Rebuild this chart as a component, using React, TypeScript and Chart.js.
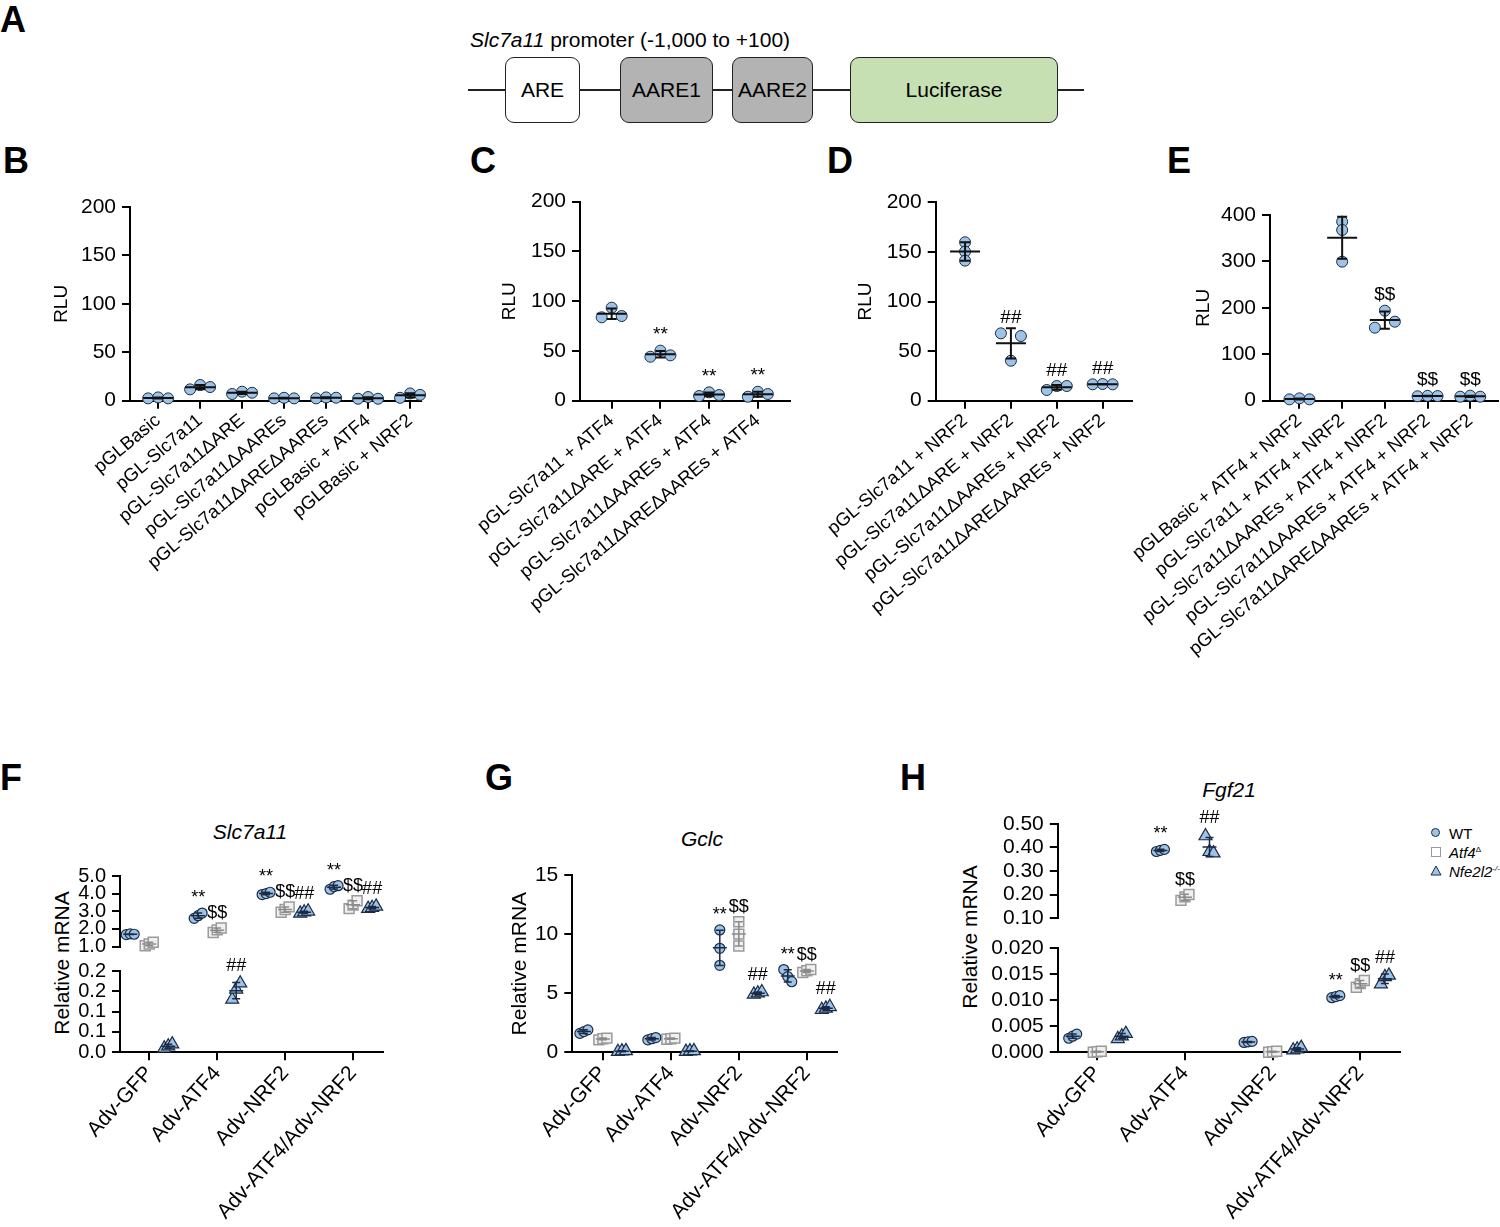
import React, { useEffect, useRef } from "react";
import { Chart, registerables } from "chart.js";

Chart.register(...registerables);

const FONT = "'Liberation Sans', Arial, Helvetica, sans-serif";
Chart.defaults.font.family = FONT;
Chart.defaults.color = "#000";

// ---------------- data ----------------
const B_CATEGORIES = ["pGLBasic", "pGL-Slc7a11", "pGL-Slc7a11ΔARE", "pGL-Slc7a11ΔAAREs", "pGL-Slc7a11ΔAREΔAAREs", "pGLBasic + ATF4", "pGLBasic + NRF2"];
const B_RLU = [[2.4, 3.4, 2.4], [11.7, 16.2, 14.1], [6.9, 9.3, 8.2], [2.4, 3.0, 2.4], [2.4, 3.4, 3.1], [2.0, 3.8, 2.0], [3.0, 7.5, 6.0]];
const B_SIG = ["", "", "", "", "", "", ""];

const C_CATEGORIES = ["pGL-Slc7a11 + ATF4", "pGL-Slc7a11ΔARE + ATF4", "pGL-Slc7a11ΔAAREs + ATF4", "pGL-Slc7a11ΔAREΔAAREs + ATF4"];
const C_RLU = [[83.8, 93.5, 85.1], [44.2, 50.3, 45.6], [4.7, 8.4, 5.7], [4.0, 9.0, 6.7]];
const C_SIG = ["", "**", "**", "**"];

const D_CATEGORIES = ["pGL-Slc7a11 + NRF2", "pGL-Slc7a11ΔARE + NRF2", "pGL-Slc7a11ΔAAREs + NRF2", "pGL-Slc7a11ΔAREΔAAREs + NRF2"];
const D_RLU = [[159.7, 150.3, 141.2], [67.9, 40.3, 65.2], [10.8, 14.8, 14.8], [16.5, 16.8, 16.5]];
const D_SIG = ["", "##", "##", "##"];

const E_CATEGORIES = ["pGLBasic + ATF4 + NRF2", "pGL-Slc7a11 + ATF4 + NRF2", "pGL-Slc7a11ΔAAREs + ATF4 + NRF2", "pGL-Slc7a11ΔAAREs + ATF4 + NRF2", "pGL-Slc7a11ΔAREΔAAREs + ATF4 + NRF2"];
const E_RLU = [[2.9, 5.0, 2.9], [385.6, 367.7, 299.5], [157.3, 193.9, 170.2], [9.5, 10.5, 10.0], [8.6, 10.8, 8.6]];
const E_SIG = ["", "", "$$", "$$", "$$"];

const RLU_TICKS = [0, 50, 100, 150, 200];
const RLU_TICK_LABELS = ["0", "50", "100", "150", "200"];
const E_TICKS = [0, 100, 200, 300, 400];
const E_TICK_LABELS = ["0", "100", "200", "300", "400"];

const MRNA_CATEGORIES = ["Adv-GFP", "Adv-ATF4", "Adv-NRF2", "Adv-ATF4/Adv-NRF2"];
const SERIES_NAMES = ["WT", "Atf4Δ", "Nfe2l2-/-"];

// F: Slc7a11
const F_WT = [[1.68, 1.72, 1.7], [2.6, 2.75, 2.9], [3.95, 4.0, 4.08], [4.25, 4.4, 4.45]];
const F_ATF4KO = [[1.05, 1.15, 1.25], [1.8, 1.95, 2.05], [2.95, 3.1, 3.25], [3.15, 3.35, 3.6]];
const F_NFE2L2KO = [[0.01, 0.015, 0.02], [0.13, 0.155, 0.17], [2.88, 2.95, 3.0], [3.15, 3.2, 3.28]];
const F_SIG_WT = ["", "**", "**", "**"];
const F_SIG_ATF4KO = ["", "$$", "$$", "$$"];
const F_SIG_NFE2L2KO = ["", "##", "##", "##"];
const F_UPPER_TICKS = [1, 2, 3, 4, 5];
const F_UPPER_LABELS = ["1.0", "2.0", "3.0", "4.0", "5.0"];
const F_LOWER_TICKS = [0, 0.05, 0.1, 0.15, 0.2];
const F_LOWER_LABELS = ["0.0", "0.1", "0.1", "0.2", "0.2"];

// G: Gclc
const G_WT = [[1.6, 1.75, 1.9], [1.05, 1.15, 1.25], [10.35, 8.8, 7.36], [7.0, 6.4, 5.97]];
const G_ATF4KO = [[1.05, 1.15, 1.2], [1.1, 1.15, 1.2], [11.05, 10.0, 8.99], [6.75, 6.9, 7.0]];
const G_NFE2L2KO = [[0.05, 0.1, 0.12], [0.06, 0.1, 0.12], [4.9, 5.0, 5.1], [3.6, 3.72, 3.85]];
const G_SIG_WT = ["", "", "**", "**"];
const G_SIG_ATF4KO = ["", "", "$$", "$$"];
const G_SIG_NFE2L2KO = ["", "", "##", "##"];
const G_TICKS = [0, 5, 10, 15];
const G_TICK_LABELS = ["0", "5", "10", "15"];

// H: Fgf21
const H_WT = [[0.0027, 0.0031, 0.0035], [0.383, 0.388, 0.392], [0.0019, 0.002, 0.0021], [0.0105, 0.0107, 0.0109]];
const H_ATF4KO = [[0.0, 0.0001, 0.0002], [0.175, 0.19, 0.2], [0.0, 0.0001, 0.0002], [0.0125, 0.0132, 0.0138]];
const H_NFE2L2KO = [[0.0026, 0.0031, 0.0036], [0.449, 0.382, 0.376], [0.0004, 0.0006, 0.0009], [0.0131, 0.0145, 0.0148]];
const H_SIG_WT = ["", "**", "", "**"];
const H_SIG_ATF4KO = ["", "$$", "", "$$"];
const H_SIG_NFE2L2KO = ["", "##", "", "##"];
const H_UPPER_TICKS = [0.1, 0.2, 0.3, 0.4, 0.5];
const H_UPPER_LABELS = ["0.10", "0.20", "0.30", "0.40", "0.50"];
const H_LOWER_TICKS = [0, 0.005, 0.01, 0.015, 0.02];
const H_LOWER_LABELS = ["0.000", "0.005", "0.010", "0.015", "0.020"];

// ---------------- styles ----------------
const BLUE = "#9dc3e6";
const NAVY = "#1c2b45";

interface MarkStyle { shape: "circle" | "rect" | "triangle"; radius: number; fill: string; stroke: string; strokeW: number; bar: string; }
const RLU_MARK: MarkStyle = { shape: "circle", radius: 5.5, fill: BLUE, stroke: NAVY, strokeW: 1, bar: "#111" };
const WT_MARK: MarkStyle = { shape: "circle", radius: 5, fill: BLUE, stroke: NAVY, strokeW: 1.2, bar: NAVY };
const ATF4KO_MARK: MarkStyle = { shape: "rect", radius: 7, fill: "#f0f0f0", stroke: "#9a9a9a", strokeW: 1.5, bar: "#8a8a8a" };
const NFE2L2KO_MARK: MarkStyle = { shape: "triangle", radius: 7.5, fill: BLUE, stroke: NAVY, strokeW: 1.2, bar: NAVY };

interface SeriesCfg { values: number[][]; sig: string[]; mark: MarkStyle; offset: number; name: string; }
interface PanelCfg {
  key: string;
  rect: number[];
  area: number[];
  xRange: number[];
  yTicks: number[];
  yLabels: string[];
  categories: string[] | null;
  series: SeriesCfg[];
  keep?: (mean: number) => boolean;
  yTitle?: { text: string; centerX: number; size: number };
  yFont: number;
  meanHalf: number; capHalf: number; barW: number; jitterPx: number; sigSize: number; xFont: number; xRot: number;
}

const RLU_STYLE = { meanHalf: 15, capHalf: 5, barW: 2, jitterPx: 10, sigSize: 19, xFont: 18.5, xRot: 40 };
const MRNA_STYLE = { meanHalf: 7, capHalf: 4, barW: 1.5, jitterPx: 4, sigSize: 18, xFont: 21, xRot: 48 };
const OFF = 0.28;

const rluSeries = (values: number[][], sig: string[]): SeriesCfg[] => [{ values, sig, mark: RLU_MARK, offset: 0, name: "RLU" }];
const mrnaSeries = (wt: number[][], a: number[][], n: number[][], sw: string[], sa: string[], sn: string[]): SeriesCfg[] => [
  { values: wt, sig: sw, mark: WT_MARK, offset: -OFF, name: SERIES_NAMES[0] },
  { values: a, sig: sa, mark: ATF4KO_MARK, offset: 0, name: SERIES_NAMES[1] },
  { values: n, sig: sn, mark: NFE2L2KO_MARK, offset: OFF, name: SERIES_NAMES[2] },
];

const PANELS: PanelCfg[] = [
  { key: "B", rect: [0, 180, 432, 660], area: [130, 421, 207, 400.7], xRange: [-0.67, 6.26], yTicks: RLU_TICKS, yLabels: RLU_TICK_LABELS, yFont: 21, categories: B_CATEGORIES, series: rluSeries(B_RLU, B_SIG), yTitle: { text: "RLU", centerX: 62, size: 19 }, ...RLU_STYLE },
  { key: "C", rect: [430, 175, 800, 660], area: [580, 790, 201.7, 400.7], xRange: [-0.65, 3.66], yTicks: RLU_TICKS, yLabels: RLU_TICK_LABELS, yFont: 21, categories: C_CATEGORIES, series: rluSeries(C_RLU, C_SIG), yTitle: { text: "RLU", centerX: 510, size: 19 }, ...RLU_STYLE },
  { key: "D", rect: [790, 175, 1140, 660], area: [935.7, 1132, 202.3, 400.7], xRange: [-0.64, 3.64], yTicks: RLU_TICKS, yLabels: RLU_TICK_LABELS, yFont: 21, categories: D_CATEGORIES, series: rluSeries(D_RLU, D_SIG), yTitle: { text: "RLU", centerX: 866, size: 19 }, ...RLU_STYLE },
  { key: "E", rect: [1130, 190, 1512, 700], area: [1270, 1498, 215, 400.7], xRange: [-0.69, 4.65], yTicks: E_TICKS, yLabels: E_TICK_LABELS, yFont: 21, categories: E_CATEGORIES, series: rluSeries(E_RLU, E_SIG), yTitle: { text: "RLU", centerX: 1204, size: 19 }, ...RLU_STYLE },
  { key: "Fu", rect: [0, 856, 395, 968], area: [120, 383, 876, 957.3], xRange: [-0.43, 3.44], yTicks: F_UPPER_TICKS, yLabels: F_UPPER_LABELS, yFont: 20, categories: null, series: mrnaSeries(F_WT, F_ATF4KO, F_NFE2L2KO, F_SIG_WT, F_SIG_ATF4KO, F_SIG_NFE2L2KO), keep: (m) => m >= 1, ...MRNA_STYLE },
  { key: "Fl", rect: [0, 955, 395, 1227], area: [120, 383, 971, 1052.3], xRange: [-0.43, 3.44], yTicks: F_LOWER_TICKS, yLabels: F_LOWER_LABELS, yFont: 20, categories: MRNA_CATEGORIES, series: mrnaSeries(F_WT, F_ATF4KO, F_NFE2L2KO, F_SIG_WT, F_SIG_ATF4KO, F_SIG_NFE2L2KO), keep: (m) => m < 1, ...MRNA_STYLE },
  { key: "G", rect: [450, 860, 850, 1227], area: [572.3, 836.7, 875, 1052.3], xRange: [-0.45, 3.44], yTicks: G_TICKS, yLabels: G_TICK_LABELS, yFont: 21, categories: MRNA_CATEGORIES, series: mrnaSeries(G_WT, G_ATF4KO, G_NFE2L2KO, G_SIG_WT, G_SIG_ATF4KO, G_SIG_NFE2L2KO), yTitle: { text: "Relative mRNA", centerX: 520, size: 21 }, ...MRNA_STYLE },
  { key: "Hu", rect: [940, 800, 1410, 940], area: [1057.8, 1399.8, 824, 929], xRange: [-0.45, 3.45], yTicks: H_UPPER_TICKS, yLabels: H_UPPER_LABELS, yFont: 21, categories: null, series: mrnaSeries(H_WT, H_ATF4KO, H_NFE2L2KO, H_SIG_WT, H_SIG_ATF4KO, H_SIG_NFE2L2KO), keep: (m) => m >= 0.1, ...MRNA_STYLE },
  { key: "Hl", rect: [940, 935, 1410, 1227], area: [1057.8, 1399.8, 948.3, 1052.3], xRange: [-0.45, 3.45], yTicks: H_LOWER_TICKS, yLabels: H_LOWER_LABELS, yFont: 21, categories: MRNA_CATEGORIES, series: mrnaSeries(H_WT, H_ATF4KO, H_NFE2L2KO, H_SIG_WT, H_SIG_ATF4KO, H_SIG_NFE2L2KO), keep: (m) => m < 0.1, ...MRNA_STYLE },
];

function buildChart(canvas: HTMLCanvasElement, p: PanelCfg): Chart {
  const [L, T, R, B] = p.rect;
  const [x0, x1, yTop, yBot] = p.area;
  const yMin = p.yTicks[0];
  const yMax = p.yTicks[p.yTicks.length - 1];
  const pxPerX = (x1 - x0) / (p.xRange[1] - p.xRange[0]);
  const pxPerY = (yBot - yTop) / (yMax - yMin);
  const cats = p.categories;
  const showX = !!cats;
  const datasets: any[] = [];

  p.series.forEach((s) => {
    s.values.forEach((vals, ci) => {
      const n = vals.length;
      const mean = vals.reduce((a, b) => a + b, 0) / n;
      if (p.keep && !p.keep(mean)) return;
      const sd = Math.sqrt(vals.reduce((a, b) => a + (b - mean) * (b - mean), 0) / (n - 1));
      let crowded = false;
      for (let i = 0; i < n; i++) for (let j = i + 1; j < n; j++) if (Math.abs(vals[i] - vals[j]) * pxPerY < 8) crowded = true;
      const cx = ci + s.offset;
      const step = p.jitterPx / pxPerX;
      const data = vals.map((v, i) => ({ x: cx + (crowded ? (i - (n - 1) / 2) * step : 0), y: v }));
      const visR = s.mark.shape === "rect" ? s.mark.radius * 0.71 : s.mark.radius;
      datasets.push({
        label: s.name,
        data,
        pointStyle: s.mark.shape,
        pointRadius: s.mark.radius,
        backgroundColor: s.mark.fill,
        borderColor: s.mark.stroke,
        borderWidth: s.mark.strokeW,
        clip: false,
        summary: { x: cx, mean, sd, color: s.mark.bar, sig: s.sig[ci], top: Math.max(...vals), r: visR },
      });
    });
  });

  const summaryPlugin = {
    id: "summary" + p.key,
    afterDatasetsDraw(chart: any) {
      const ctx = chart.ctx as CanvasRenderingContext2D;
      const xs = chart.scales.x;
      const ys = chart.scales.y;
      chart.data.datasets.forEach((ds: any) => {
        const s = ds.summary;
        if (!s) return;
        const px = xs.getPixelForValue(s.x);
        const pm = ys.getPixelForValue(s.mean);
        const pHi = ys.getPixelForValue(s.mean + s.sd);
        const pLo = ys.getPixelForValue(s.mean - s.sd);
        ctx.save();
        ctx.strokeStyle = s.color;
        ctx.lineWidth = p.barW;
        ctx.beginPath();
        ctx.moveTo(px, pHi); ctx.lineTo(px, pLo);
        ctx.moveTo(px - p.capHalf, pHi); ctx.lineTo(px + p.capHalf, pHi);
        ctx.moveTo(px - p.capHalf, pLo); ctx.lineTo(px + p.capHalf, pLo);
        ctx.moveTo(px - p.meanHalf, pm); ctx.lineTo(px + p.meanHalf, pm);
        ctx.stroke();
        if (s.sig) {
          const top = Math.min(pHi, ys.getPixelForValue(s.top) - s.r);
          ctx.fillStyle = "#000";
          ctx.font = `${p.sigSize}px ${FONT}`;
          ctx.textAlign = "center";
          ctx.textBaseline = "alphabetic";
          ctx.fillText(s.sig, px, top - 5);
        }
        ctx.restore();
      });
    },
  };

  const axisLine = { display: true, width: 2, color: "#000" };
  const tickGrid = { drawOnChartArea: false, drawTicks: true, tickLength: 8, lineWidth: 2, color: "#000" };

  return new Chart(canvas, {
    type: "scatter",
    data: { datasets },
    options: {
      animation: false,
      responsive: false,
      events: [],
      layout: { padding: { left: 0, top: yTop - T, right: R - x1, bottom: showX ? 0 : B - yBot } },
      plugins: { legend: { display: false }, tooltip: { enabled: false } },
      scales: {
        x: {
          type: "linear",
          display: showX,
          min: p.xRange[0],
          max: p.xRange[1],
          afterBuildTicks: (ax: any) => { ax.ticks = (cats || []).map((_, i) => ({ value: i })); },
          ticks: {
            autoSkip: false,
            minRotation: p.xRot,
            maxRotation: p.xRot,
            padding: 1,
            color: "#000",
            font: { size: p.xFont, family: FONT },
            callback: (_v: any, i: number) => (cats ? cats[i] : ""),
          },
          grid: tickGrid,
          border: axisLine,
          afterFit: (ax: any) => { ax.height = B - yBot; ax.paddingLeft = 0; ax.paddingRight = 0; },
        },
        y: {
          type: "linear",
          min: yMin,
          max: yMax,
          afterBuildTicks: (ax: any) => { ax.ticks = p.yTicks.map((v) => ({ value: v })); },
          ticks: {
            autoSkip: false,
            padding: 6,
            color: "#000",
            font: { size: p.yFont, family: FONT },
            callback: (_v: any, i: number) => p.yLabels[i],
          },
          grid: tickGrid,
          border: axisLine,
          title: p.yTitle
            ? { display: true, text: p.yTitle.text, color: "#000", font: { size: p.yTitle.size, family: FONT }, padding: { top: p.yTitle.centerX - L - p.yTitle.size * 0.6, bottom: 0 } }
            : { display: false },
          afterFit: (ax: any) => { ax.width = x0 - L; ax.paddingTop = 0; ax.paddingBottom = 0; },
        },
      },
    } as any,
    plugins: [summaryPlugin],
  });
}

const DIAGRAM_BOXES = [
  { label: "ARE", left: 505, right: 580, fill: "#ffffff" },
  { label: "AARE1", left: 620, right: 713, fill: "#b3b3b3" },
  { label: "AARE2", left: 732, right: 813, fill: "#b3b3b3" },
  { label: "Luciferase", left: 850, right: 1058, fill: "#c6e0b4" },
];

const LETTERS = [
  { t: "A", x: 0, y: 20 },
  { t: "B", x: 3, y: 161 },
  { t: "C", x: 470, y: 161 },
  { t: "D", x: 827, y: 161 },
  { t: "E", x: 1167, y: 161 },
  { t: "F", x: 0, y: 778 },
  { t: "G", x: 485, y: 778 },
  { t: "H", x: 900, y: 778 },
];

export default function App() {
  const refs = useRef<(HTMLCanvasElement | null)[]>([]);
  useEffect(() => {
    document.body.style.margin = "0";
    const charts = PANELS.map((p, i) => buildChart(refs.current[i] as HTMLCanvasElement, p));
    return () => charts.forEach((c) => c.destroy());
  }, []);

  const abs: React.CSSProperties = { position: "absolute", whiteSpace: "nowrap" };
  return (
    <div style={{ position: "absolute", left: 0, top: 0, width: 1500, height: 1227, overflow: "hidden", background: "#fff", fontFamily: FONT, color: "#000" }}>
      {LETTERS.map((l) => (
        <div key={l.t} style={{ ...abs, left: l.x, top: l.y, transform: "translateY(-50%)", fontWeight: "bold", fontSize: 36, lineHeight: "36px" }}>{l.t}</div>
      ))}
      {/* Panel A diagram */}
      <div style={{ ...abs, left: 470, top: 40, transform: "translateY(-50%)", fontSize: 21, lineHeight: "24px" }}>
        <i>Slc7a11</i> promoter (-1,000 to +100)
      </div>
      <div style={{ position: "absolute", left: 468, top: 89, width: 616, height: 2, background: "#222" }} />
      {DIAGRAM_BOXES.map((b) => (
        <div key={b.label} style={{ position: "absolute", left: b.left, top: 57, width: b.right - b.left, height: 66, boxSizing: "border-box", border: "1.5px solid #222", borderRadius: 9, background: b.fill, display: "flex", alignItems: "center", justifyContent: "center", fontSize: 21 }}>{b.label}</div>
      ))}
      {/* gene titles */}
      <div style={{ ...abs, left: 250, top: 832, transform: "translate(-50%,-50%)", fontStyle: "italic", fontSize: 21 }}>Slc7a11</div>
      <div style={{ ...abs, left: 702, top: 839, transform: "translate(-50%,-50%)", fontStyle: "italic", fontSize: 21 }}>Gclc</div>
      <div style={{ ...abs, left: 1229, top: 790, transform: "translate(-50%,-50%)", fontStyle: "italic", fontSize: 21 }}>Fgf21</div>
      {/* y titles of broken-axis panels */}
      <div style={{ ...abs, left: 62, top: 963, transform: "translate(-50%,-50%) rotate(-90deg)", fontSize: 21 }}>Relative mRNA</div>
      <div style={{ ...abs, left: 970, top: 937, transform: "translate(-50%,-50%) rotate(-90deg)", fontSize: 21 }}>Relative mRNA</div>
      {/* legend H */}
      <div style={{ position: "absolute", left: 1431, top: 828, width: 9, height: 9, boxSizing: "border-box", borderRadius: "50%", background: BLUE, border: `1px solid ${NAVY}` }} />
      <div style={{ ...abs, left: 1449, top: 833, transform: "translateY(-50%)", fontSize: 15 }}>WT</div>
      <div style={{ position: "absolute", left: 1431, top: 847, width: 10, height: 10, boxSizing: "border-box", background: "#fff", border: "1.5px solid #9a9a9a" }} />
      <div style={{ ...abs, left: 1449, top: 852, transform: "translateY(-50%)", fontSize: 15 }}><i>Atf4</i><sup style={{ fontSize: 8 }}>Δ</sup></div>
      <svg style={{ position: "absolute", left: 1430, top: 865 }} width={12} height={11}>
        <polygon points="6,1 11,10 1,10" fill={BLUE} stroke={NAVY} strokeWidth={1} />
      </svg>
      <div style={{ ...abs, left: 1449, top: 871, transform: "translateY(-50%)", fontSize: 15 }}><i>Nfe2l2</i><sup style={{ fontSize: 8 }}><i>-/-</i></sup></div>
      {PANELS.map((p, i) => {
        const [L, T, R, B] = p.rect;
        return (
          <canvas
            key={p.key}
            ref={(el) => { refs.current[i] = el; }}
            width={R - L}
            height={B - T}
            style={{ position: "absolute", left: L, top: T, width: R - L, height: B - T }}
          />
        );
      })}
    </div>
  );
}
